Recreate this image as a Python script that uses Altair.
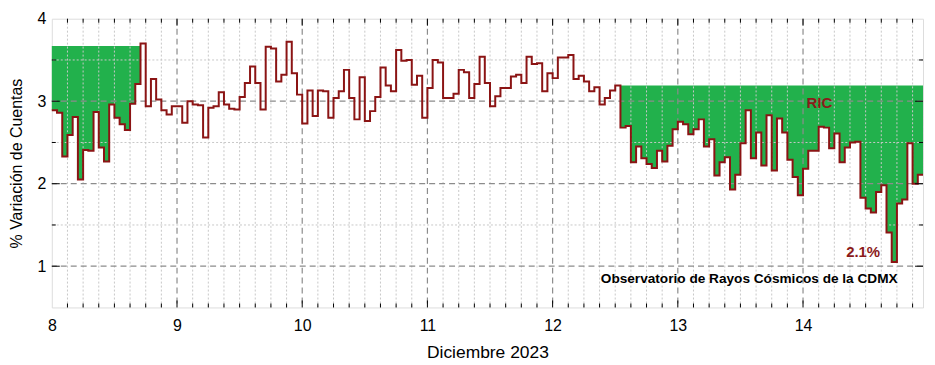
import altair as alt
import pandas as pd

# Hourly % variation of counts, 8-14 Dec 2023 (24 values per day)
d08 = [2.89, 2.86, 2.33, 2.59, 2.81, 2.05, 2.41, 2.40, 2.87, 2.44, 2.27, 2.96,
       2.80, 2.72, 2.65, 2.97, 3.21, 3.70, 2.94, 3.27, 3.02, 2.89, 2.84, 2.94]
d09 = [2.94, 2.74, 3.00, 2.96, 2.95, 2.56, 2.92, 2.94, 3.11, 2.96, 2.91, 2.90,
       3.05, 3.22, 3.42, 3.22, 2.90, 3.66, 3.64, 3.24, 3.32, 3.72, 3.34, 3.08]
d10 = [2.73, 3.13, 2.82, 3.13, 3.12, 2.80, 3.04, 3.12, 3.38, 3.04, 2.78, 3.29,
       2.76, 2.88, 3.05, 3.41, 3.19, 3.12, 3.62, 3.49, 3.50, 3.20, 3.31, 2.80]
d11 = [3.16, 3.50, 3.47, 3.04, 3.04, 3.09, 3.38, 3.35, 3.04, 3.21, 3.54, 3.22,
       2.94, 3.06, 3.16, 3.16, 3.30, 3.32, 3.22, 3.54, 3.45, 3.46, 3.12, 3.34]
d12 = [3.28, 3.53, 3.53, 3.56, 3.27, 3.31, 3.24, 3.12, 3.17, 2.96, 3.04, 3.13,
       3.19, 2.68, 2.70, 2.26, 2.45, 2.31, 2.24, 2.19, 2.40, 2.27, 2.46, 2.66]
d13 = [2.75, 2.72, 2.60, 2.66, 2.78, 2.45, 2.54, 2.10, 2.26, 2.32, 1.93, 2.11,
       2.49, 2.89, 2.31, 2.62, 2.22, 2.83, 2.16, 2.79, 2.62, 2.29, 2.08, 1.86]
d14 = [2.18, 2.40, 2.40, 2.69, 2.68, 2.43, 2.61, 2.26, 2.44, 2.50, 2.51, 1.83,
       1.70, 1.65, 1.90, 1.98, 1.41, 1.05, 1.76, 1.81, 2.49, 2.00, 2.11, 2.11]

first_day = 8
values = d08 + d09 + d10 + d11 + d12 + d13 + d14
xs = [first_day + h / 24 for h in range(len(values))]

# Shaded decreases (reference level, first hour index, last hour index)
fill_levels = [3.67, 3.19]
fill_from = [0, 108]
fill_to = [17, 167]

# Axis / grid tick values
x_major = [8, 9, 10, 11, 12, 13, 14]
x_minor = [first_day + k / 8 for k in range(1, 56) if k % 8 != 0]
y_major = [1, 2, 3, 4]
y_minor = [1.5, 2.5, 3.5]

# Annotations
ann_text = ["RIC", "2.1%", "Observatorio de Rayos Cósmicos de la CDMX"]
ann_x = [14.13, 14.48, 13.57]
ann_y = [2.98, 1.17, 0.84]
ann_color = ["#8b1a1a", "#8b1a1a", "#000000"]
ann_size = [15, 15, 13.7]

W, H = 875, 290
X_DOM = [first_day, xs[-1]]
Y_DOM = [0.5, 4]
FONT = "Liberation Sans"
LINE_RED = "#8b1414"
GREEN = "#22b14c"

df = pd.DataFrame({"x": xs, "v": values})

rows = []
for g, (lvl, a, b) in enumerate(zip(fill_levels, fill_from, fill_to)):
    for h in range(a, b + 1):
        v = values[h] if (h < b or b == len(values) - 1) else lvl
        rows.append({"x": xs[h], "v": v, "lvl": lvl, "g": g})
fill_df = pd.DataFrame(rows)

xsc = alt.Scale(domain=X_DOM, nice=False, zero=False)
ysc = alt.Scale(domain=Y_DOM, nice=False, zero=False)

xaxis = alt.Axis(values=x_major, format="d", ticks=False, grid=False, domain=False,
                 labelFontSize=16, labelPadding=10, labelFont=FONT, labelColor="black",
                 title="Diciembre 2023", titleFont=FONT, titleFontSize=17.5,
                 titleFontWeight="normal", titlePadding=10, titleColor="black",
                 labelFlush=False)
yaxis = alt.Axis(values=y_major, format="d", ticks=False, grid=False, domain=False,
                 labelFontSize=16, labelPadding=6, labelFont=FONT, labelColor="black",
                 title="% Variación de Cuentas", titleFont=FONT, titleFontSize=16,
                 titleFontWeight="normal", titlePadding=13, titleColor="black")

area = alt.Chart(fill_df).mark_area(interpolate="step-after", color=GREEN, opacity=1).encode(
    x=alt.X("x:Q", scale=xsc, axis=xaxis),
    y=alt.Y("v:Q", scale=ysc, axis=yaxis),
    y2="lvl:Q",
    detail="g:N",
)

# grid
vminor = alt.Chart(pd.DataFrame({"x": x_minor})).mark_rule(
    color="#c8c8c8", strokeDash=[2, 2], strokeWidth=1).encode(x=alt.X("x:Q", scale=xsc))
hminor = alt.Chart(pd.DataFrame({"y": y_minor})).mark_rule(
    color="#c8c8c8", strokeDash=[2, 2], strokeWidth=1).encode(y=alt.Y("y:Q", scale=ysc))
vmajor = alt.Chart(pd.DataFrame({"x": x_major[1:]})).mark_rule(
    color="#8c8c8c", strokeDash=[6, 4], strokeWidth=1.2).encode(x=alt.X("x:Q", scale=xsc))
hmajor = alt.Chart(pd.DataFrame({"y": y_major[:-1]})).mark_rule(
    color="#8c8c8c", strokeDash=[6, 4], strokeWidth=1.2).encode(y=alt.Y("y:Q", scale=ysc))

line = alt.Chart(df).mark_line(interpolate="step-after", color=LINE_RED, strokeWidth=2).encode(
    x=alt.X("x:Q", scale=xsc),
    y=alt.Y("v:Q", scale=ysc),
)

# inward ticks on all four sides
def xticks(vals, length):
    d = pd.DataFrame({"x": vals})
    bot = alt.Chart(d).mark_rule(color="black", strokeWidth=1).encode(
        x=alt.X("x:Q", scale=xsc), y=alt.value(H), y2=alt.value(H - length))
    top = alt.Chart(d).mark_rule(color="black", strokeWidth=1).encode(
        x=alt.X("x:Q", scale=xsc), y=alt.value(0), y2=alt.value(length))
    return [bot, top]

def yticks(vals, length):
    d = pd.DataFrame({"y": vals})
    lft = alt.Chart(d).mark_rule(color="black", strokeWidth=1).encode(
        y=alt.Y("y:Q", scale=ysc), x=alt.value(0), x2=alt.value(length))
    rgt = alt.Chart(d).mark_rule(color="black", strokeWidth=1).encode(
        y=alt.Y("y:Q", scale=ysc), x=alt.value(W), x2=alt.value(W - length))
    return [lft, rgt]

ticks = xticks(x_major[1:], 7) + xticks(x_minor, 4) + yticks([1, 2, 3], 8) + yticks(y_minor, 4)

ann_df = pd.DataFrame({"t": ann_text, "x": ann_x, "y": ann_y, "c": ann_color, "s": ann_size})
texts = alt.Chart(ann_df).mark_text(font=FONT, fontWeight="bold", align="center",
                                    baseline="middle").encode(
    x=alt.X("x:Q", scale=xsc),
    y=alt.Y("y:Q", scale=ysc),
    text="t:N",
    color=alt.Color("c:N", scale=None),
    size=alt.Size("s:Q", scale=None),
)

chart = alt.layer(area, vminor, hminor, vmajor, hmajor, line, *ticks, texts).properties(
    width=W, height=H,
    padding={"left": 0, "top": 2, "right": 0, "bottom": 0},
).configure_view(stroke="black", strokeWidth=1.5).configure(background="white")

chart.save("out.html", embed_options={"renderer": "svg", "actions": False})
